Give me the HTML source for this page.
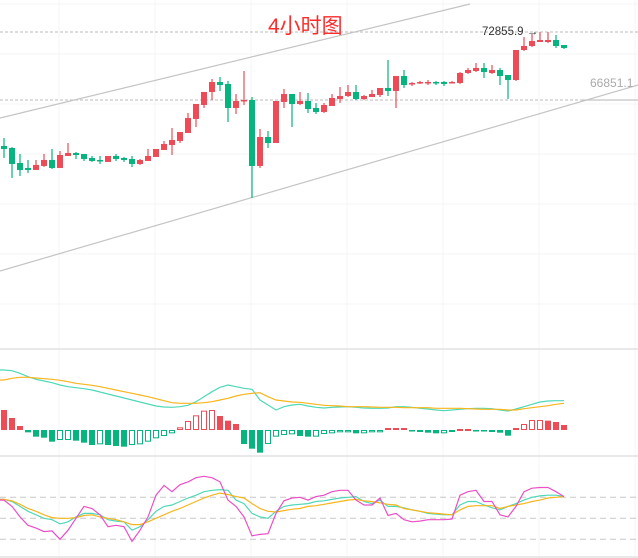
<!DOCTYPE html>
<html><head><meta charset="utf-8"><style>
html,body{margin:0;padding:0;background:#fff;}
svg{display:block;font-family:"Liberation Sans","Noto Sans CJK SC",sans-serif;}
</style></head><body>
<svg id="chart" width="638" height="558" viewBox="0 0 638 558" xmlns="http://www.w3.org/2000/svg">
<g id="grid"></g>
<g id="candles"></g>
<g id="macd"></g>
<g id="kdj"></g>
<text x="268" y="33" font-size="21" fill="#ff2a2a" font-family="'Liberation Sans','Noto Sans CJK SC',sans-serif">4小时图</text>
<text x="482" y="35" font-size="11.5" fill="#333">72855.9 →</text>
<text x="590" y="87" font-size="12" fill="#aaa">66851.1</text>
</svg>
<script>
const openP=[62791,62614,61290,60849,60673,61026,61555,60849,61908,62173,62085,61732,61555,61379,61908,61732,61643,61202,61467,61820,62438,62879,63232,63939,65175,66411,67558,68441,68265,66146,66764,66852,61026,63585,63055,66676,67382,66499,66764,66146,65793,66323,66941,67205,67558,66941,67117,67294,67912,67647,68971,68265,68353,68353,68441,68441,68353,68353,69236,69413,69677,69236,69501,69060,68618,71267,71620,71973,71973,72150,71708];
const highP=[63497,62702,62085,61555,61555,62085,62526,62349,63055,62261,62085,61908,61908,61908,62085,61820,61908,61643,62526,62526,63232,64380,64027,65705,66499,67558,68707,68883,68530,67382,69413,67117,64292,64115,66764,67823,67382,67558,67470,66588,66588,67382,68000,68177,68177,67294,67735,67912,70384,68971,69501,68441,68530,68618,68530,68530,68530,69324,69677,70120,70120,69943,69677,69060,71267,72415,72680,72856,72856,72591,71708];
const lowP=[61732,59966,60143,60408,60673,60937,60761,60849,61908,61643,61467,61379,61202,61379,61467,61379,60937,61114,61467,61820,62438,61996,63055,63939,64468,66146,66852,67647,64910,65616,66411,58199,60849,62614,63055,66146,64468,66411,65705,65616,65705,66323,66588,67117,66852,66852,67117,67117,67205,66146,67912,68088,68265,68177,68177,68088,68353,68265,69148,69324,68795,69148,68177,66941,68530,71179,71532,71973,71885,71444,71355];
const closeP=[62526,61202,60673,60673,61114,61555,60849,61996,62173,61996,61643,61467,61467,61908,61643,61555,61202,61555,61908,62526,62967,63320,64027,65263,66499,67558,68441,68177,66146,66764,66852,61026,63585,63055,66764,67382,66499,66764,66058,65793,66411,67029,67205,67558,66941,67205,67382,67912,67647,68971,68177,68353,68441,68441,68353,68265,68441,69236,69501,69677,69324,69501,68971,68618,71267,71620,72062,72150,72150,71620,71444];
const macdHist=[60,36,12,-7,-20,-23,-35,-30,-30,-32,-38,-45,-43,-45,-48,-50,-45,-43,-35,-25,-18,-10,8,27,44,58,60,42,28,18,-42,-56,-68,-42,-20,-15,-13,-18,-20,-20,-12,-10,-7,-7,-10,-10,-7,-7,6,6,6,-3,-6,-8,-10,-10,-6,3,3,-3,-4,-6,-8,-17,6,18,30,30,28,24,15];
const macdDif=[180,178,170,160,152,147,142,135,130,127,124,120,114,108,102,96,90,84,78,72,69,68,70,74,85,100,115,128,135,130,125,122,90,75,60,70,75,77,72,68,66,68,69,70,68,66,65,65,66,70,70,68,65,63,60,58,60,62,64,65,65,64,60,57,63,70,77,84,87,88,88];
const macdDea=[150,155,158,158,156,154,152,149,145,140,137,134,130,125,120,115,110,105,100,94,88,82,80,80,80,82,85,90,95,102,107,110,112,100,90,87,84,83,80,77,74,73,72,70,70,70,69,68,68,68,67,67,67,67,65,65,65,65,64,63,62,62,62,60,60,64,67,70,73,77,80];
const kdjK=[77,74,67,60,55,50,48,42,45,52,57,57,55,48,46,45,33,38,48,60,67,69,74,79,83,88,90,91,90,76,71,57,52,50,60,67,69,70,71,74,75,77,79,80,81,74,71,76,67,67,65,62,60,57,56,55,55,69,74,74,69,65,62,67,71,76,80,82,83,83,81];
const kdjD=[77,75,70,64,60,55,51,50,50,51,54,55,52,50,48,45,41,41,45,50,55,60,64,69,74,79,83,86,84,81,79,71,64,60,59,61,63,64,67,68,70,72,74,76,77,75,74,72,70,69,64,62,60,58,57,56,55,62,67,68,68,68,64,67,69,71,74,76,79,80,81];
const kdjJ=[76,67,52,40,36,31,32,20,33,50,67,64,55,38,40,38,17,33,52,83,97,88,98,102,108,110,108,102,76,67,52,25,27,28,57,75,79,80,76,81,83,88,90,90,76,69,69,79,54,57,48,45,46,48,48,48,49,83,88,90,74,74,55,52,67,88,93,94,94,88,81];
const priceMarks=[72855.9,66851.1];
const kdjLevels=[80,50,20];

const NS='http://www.w3.org/2000/svg';
const RED='#ee4b57',GREEN='#06b47d';
const xAt=i=>4+i*8;
const yPrice=p=>32+(72856-p)/88.3;
const yMacd=v=>430-v/3;
const yKdj=v=>518.3-(v-50)*0.7;
function mk(tag,attrs,parent){const e=document.createElementNS(NS,tag);for(const k in attrs)e.setAttribute(k,attrs[k]);parent.appendChild(e);return e;}

const grid=document.getElementById('grid');
for(let gx=59;gx<638;gx+=96){const l=mk('line',{x1:gx,y1:0,x2:gx,y2:558,stroke:'#f4f4f4'},grid);

}
for(let gy=4;gy<340;gy+=50){const l=mk('line',{x1:0,y1:gy,x2:638,y2:gy,stroke:'#f4f4f4'},grid);

}
[349,456,557].forEach(sy=>{const l=mk('line',{x1:0,y1:sy,x2:638,y2:sy,stroke:'#e2e2e2','stroke-width':1.5},grid);

});
priceMarks.forEach(p=>{const l=mk('line',{x1:0,y1:yPrice(p),x2:638,y2:yPrice(p),stroke:'#bbb','stroke-dasharray':'3,2'},grid);

});
const ul=mk('line',{x1:0,y1:118,x2:470,y2:4,stroke:'#c4c4c4','stroke-width':1.2},grid);


const ll=mk('line',{x1:0,y1:271,x2:638,y2:85,stroke:'#c4c4c4','stroke-width':1.2},grid);


const ml=mk('line',{x1:583,y1:100,x2:638,y2:100,stroke:'#c4c4c4','stroke-width':1.2},grid);



const cg=document.getElementById('candles');
for(let i=0;i<openP.length;i++){
  const up=closeP[i]>=openP[i];const col=up?RED:GREEN;const x=xAt(i);
  const g=mk('g',{},cg);
  
  
  mk('line',{x1:x,y1:yPrice(highP[i]),x2:x,y2:yPrice(lowP[i]),stroke:col,'stroke-width':1.2},g);
  const t=yPrice(Math.max(openP[i],closeP[i])),b=yPrice(Math.min(openP[i],closeP[i]));
  mk('rect',{x:x-3,y:t,width:6,height:Math.max(1.5,b-t),fill:col},g);
}

const mg=document.getElementById('macd');
for(let i=0;i<macdHist.length;i++){
  const v=macdHist[i];const col=v>=0?RED:GREEN;const hollow=i>0&&v>=macdHist[i-1];
  const y0=yMacd(0),y1=yMacd(v);const top=Math.min(y0,y1),h=Math.max(1.5,Math.abs(y1-y0));
  const r=hollow?mk('rect',{x:xAt(i)-2.5,y:top+0.5,width:5,height:Math.max(1,h-1),fill:'none',stroke:col,'stroke-width':1},mg):mk('rect',{x:xAt(i)-3,y:top,width:6,height:h,fill:col},mg);
  
  
}
function poly(arr,yf,col,parent,name){
  const pts=arr.map((v,i)=>xAt(i)+','+yf(v).toFixed(1)).join(' ');
  const p=mk('polyline',{points:'0,'+yf(arr[0]).toFixed(1)+' '+pts,fill:'none',stroke:col,'stroke-width':1.2},parent);
  
  
}
poly(macdDif,yMacd,'#4fd8b8',mg,'macd-dif-line');
poly(macdDea,yMacd,'#f8b51c',mg,'macd-dea-line');

const kg=document.getElementById('kdj');
kdjLevels.forEach(v=>{const l=mk('line',{x1:0,y1:yKdj(v),x2:638,y2:yKdj(v),stroke:'#c8c8c8','stroke-dasharray':'6,4'},kg);

});
poly(kdjK,yKdj,'#4fd8b8',kg,'kdj-k-line');
poly(kdjD,yKdj,'#f8b51c',kg,'kdj-d-line');
poly(kdjJ,yKdj,'#ec4fc6',kg,'kdj-j-line');
</script>
</body></html>
